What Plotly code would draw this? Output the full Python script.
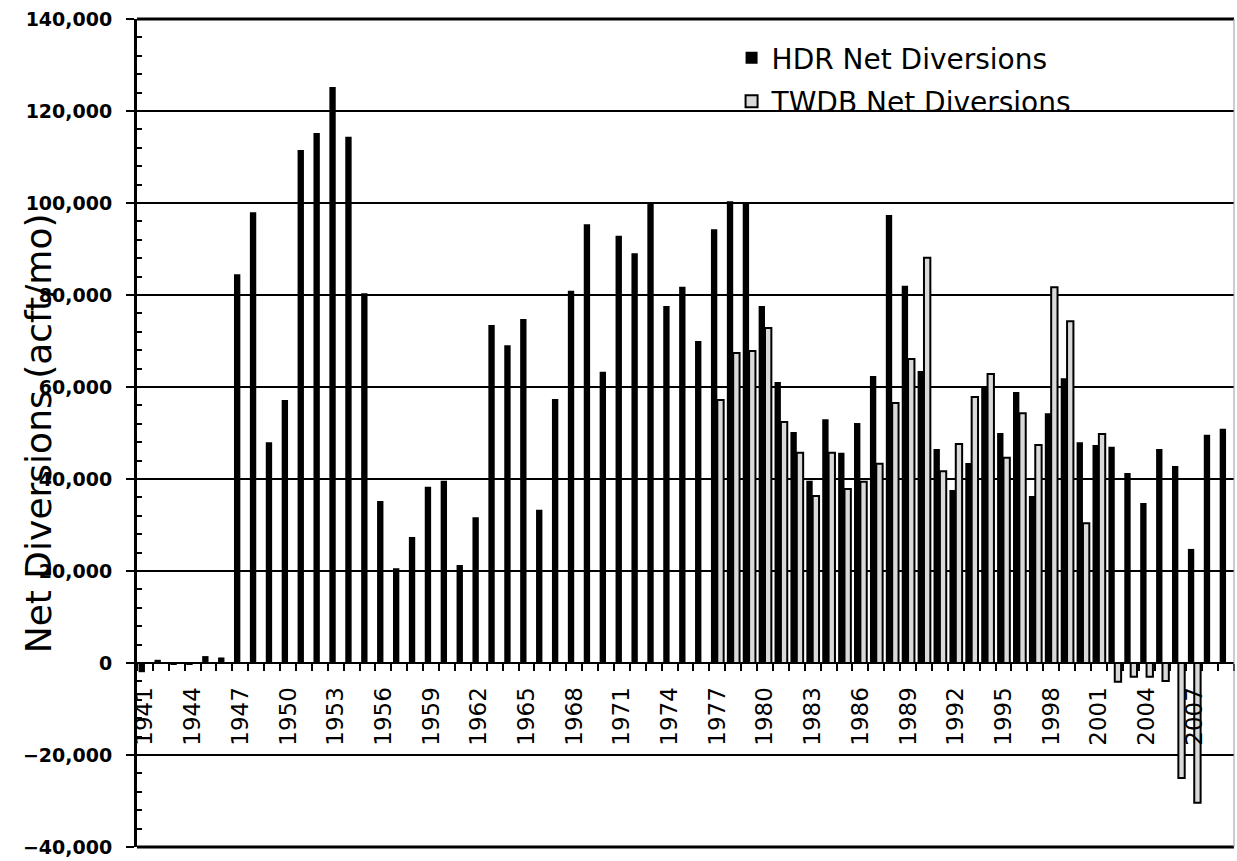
import plotly.graph_objects as go

years = list(range(1941, 2010))

hdr_net = [
    -2000, 700, -300, -300, 1500, 1200, 84500, 98000, 48000, 57200,
    111500, 115200, 125200, 114400, 80400, 35200, 20600, 27400, 38300, 39600,
    21300, 31700, 73500, 69100, 74800, 33300, 57400, 80900, 95400, 63300,
    92900, 89100, 100000, 77600, 81800, 70000, 94300, 100400, 100000, 77600,
    61100, 50200, 39600, 53000, 45700, 52200, 62400, 97400, 82000, 63500,
    46500, 37600, 43500, 60200, 50000, 58900, 36300, 54300, 61900, 48000,
    47400, 47000, 41300, 34800, 46500, 42800, 24800, 49600, 50900,
]

twdb_years = list(range(1977, 2008))
twdb_net = [
    57200, 67400, 67800, 72800, 52400, 45700, 36300, 45700, 37800, 39400,
    43300, 56500, 66100, 88100, 41700, 47600, 57800, 62800, 44600, 54300,
    47400, 81700, 74300, 30400, 49800, -4100, -3000, -3000, -3900, -25000,
    -30400,
]

tick_years = list(range(1941, 2010, 3))
tick_labels = [str(y) for y in tick_years]

y_min, y_max = -40000, 140000

fig = go.Figure()
fig.add_trace(go.Bar(
    x=years, y=hdr_net, name="HDR Net Diversions",
    marker=dict(color="black", line=dict(color="black", width=0)),
    legendgroup="a",
))
fig.add_trace(go.Bar(
    x=twdb_years, y=twdb_net, name="TWDB Net Diversions",
    marker=dict(color="#d9d9d9", line=dict(color="black", width=2)),
    legendgroup="b",
))

zero_pos = (0 - y_min) / (y_max - y_min)

fig.update_layout(
    width=1237, height=861,
    margin=dict(l=137, r=3, t=19, b=14),
    paper_bgcolor="white", plot_bgcolor="white",
    barmode="group", bargap=0.2, bargroupgap=0.0,
    font=dict(family="DejaVu Sans", color="black"),
    showlegend=True,
    legend=dict(
        x=0.542, y=0.983, xanchor="left", yanchor="top",
        font=dict(family="DejaVu Sans", size=28, color="black"),
        bgcolor="rgba(0,0,0,0)", tracegroupgap=4,
    ),
    xaxis=dict(
        range=[1940.5, 2009.5],
        anchor="free", position=zero_pos,
        showline=True, linecolor="black", linewidth=2,
        showgrid=False, zeroline=False,
        tickmode="array", tickvals=tick_years, ticktext=tick_labels,
        ticks="", tickangle=-90,
        tickfont=dict(family="DejaVu Sans", size=23, color="black"),
        ticklabelstandoff=14,
        minor=dict(tickmode="linear", tick0=1940.5, dtick=1,
                   ticks="outside", ticklen=7, tickwidth=2, tickcolor="black",
                   showgrid=False),
    ),
    yaxis=dict(
        range=[y_min, y_max], domain=[0, 1],
        tickmode="linear", tick0=0, dtick=20000, tickformat=",",
        showline=True, linecolor="black", linewidth=3,
        showgrid=True, gridcolor="black", gridwidth=2,
        zeroline=False,
        ticks="outside", ticklen=8, tickwidth=2, tickcolor="black",
        ticklabelstandoff=10,
        tickfont=dict(family="DejaVu Sans", size=19, color="black", weight="bold"),
        minor=dict(dtick=4000, ticks="inside", ticklen=5, tickwidth=2,
                   tickcolor="black", showgrid=False),
    ),
    shapes=[
        dict(type="line", xref="paper", yref="paper", x0=0, x1=1, y0=1, y1=1,
             line=dict(color="black", width=3), layer="above"),
        dict(type="line", xref="paper", yref="paper", x0=0, x1=1, y0=0, y1=0,
             line=dict(color="black", width=3), layer="above"),
        dict(type="line", xref="paper", yref="paper", x0=1, x1=1, y0=0, y1=1,
             line=dict(color="#999999", width=1), layer="above"),
    ],
    annotations=[dict(
        text="Net Diversions (acft/mo)", xref="paper", yref="paper",
        x=-0.09, y=0.5, xanchor="center", yanchor="middle",
        textangle=-90, showarrow=False,
        font=dict(family="DejaVu Sans", size=36, color="black"),
    )],
)

fig.write_html("out.html", config={"displayModeBar": False},
               post_script="document.body.style.margin='0';")
